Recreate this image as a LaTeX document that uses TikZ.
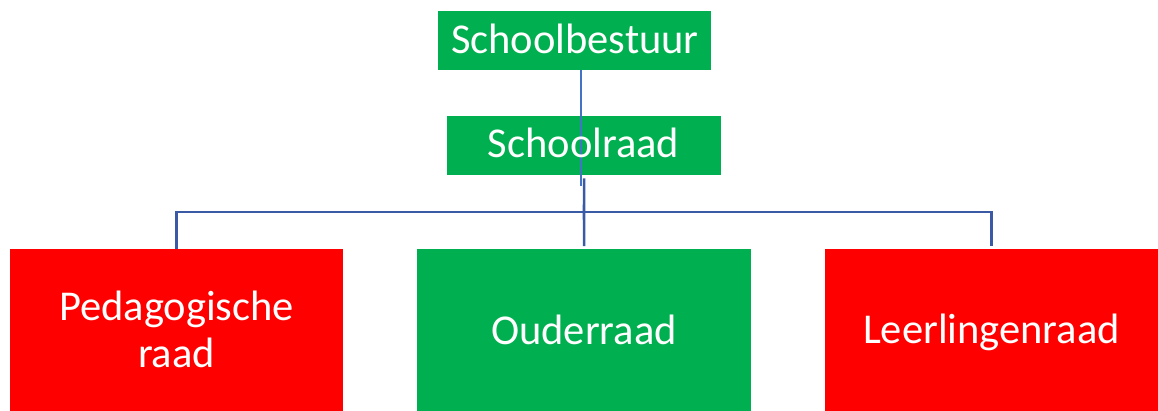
\documentclass[tikz,border=0pt]{standalone}
\usepackage{fontspec}
\setmainfont{Carlito}
\definecolor{boxgreen}{HTML}{00B050}
\definecolor{boxred}{HTML}{FF0000}
\definecolor{thinblue}{HTML}{4472C4}
\definecolor{thickblue}{HTML}{3A5AA6}
\begin{document}
\begin{tikzpicture}[x=1pt,y=-1pt,
  box/.style={draw=none,inner sep=0pt,anchor=north west},
  lbl/.style={text=white,inner sep=0pt,anchor=base,font=\fontsize{42.5}{47}\selectfont,align=center},
  thinline/.style={draw=thinblue,line width=1.2pt},
  thickline/.style={draw=thickblue,line width=2.6pt}]
\useasboundingbox (0,0) rectangle (1158,410);
\node[box,fill=boxgreen,minimum width=273pt,minimum height=59pt] (sb) at (438,11) {};
\node[box,fill=boxgreen,minimum width=274pt,minimum height=59pt] (sr) at (447,116) {};
\node[box,fill=boxred,minimum width=333pt,minimum height=165pt] (pr) at (10,249) {};
\node[box,fill=boxgreen,minimum width=334pt,minimum height=165pt] (or) at (417,249) {};
\node[box,fill=boxred,minimum width=333pt,minimum height=165pt] (lr) at (825,249) {};
% connectors
\coordinate (sbout) at (581,70);
\coordinate (sbend) at (581,186);
\draw[thinline] (sbout) -- (sbend);
\coordinate (bus) at (584,212);
\draw[thickline,shorten <=3pt] (sr.south) -- (bus);
\draw[thickline,shorten >=3pt] (pr.north) |- (bus) -| (lr.north);
\draw[thickline,shorten >=3pt] (bus) -- (or.north);
% labels
\node[lbl] (tsb) at (575,53) {Schoolbestuur};
\node[lbl] (tsr) at (583.5,157) {Schoolraad};
\node[lbl] (tpr) at (176.5,367) {Pedagogische\\raad};
\node[lbl] (tor) at (584,344) {Ouderraad};
\node[lbl] (tlr) at (991.5,343) {Leerlingenraad};
\end{tikzpicture}
\end{document}
